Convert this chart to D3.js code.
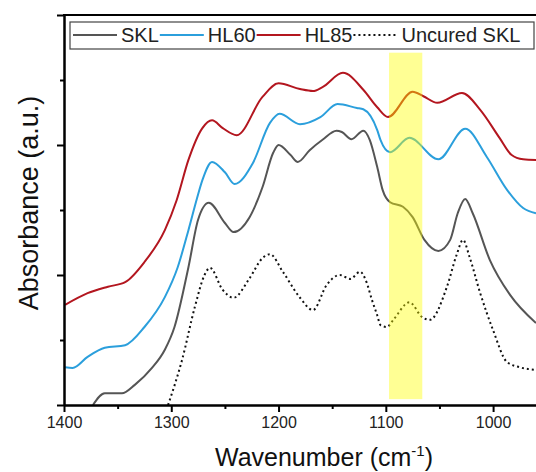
<!DOCTYPE html>
<html>
<head>
<meta charset="utf-8">
<script src="https://cdn.jsdelivr.net/npm/d3@7"></script>
<style>
  body { margin: 0; background: #fff; }
  svg { display: block; font-family: Arial, "Liberation Sans", sans-serif; }
</style>
</head>
<body>
<script>
// wavenumber (cm-1), absorbance (a.u., offset stacked)
const hl85Wn  = [1399,1378,1359,1343,1325,1306,1295,1284,1271,1262,1252,1239,1215,1200,1180,1168,1159,1140,1121,1108,1098,1075,1065,1052,1029,1012,994,983,972,960];
const hl85Abs = [1.54,1.72,1.82,1.89,2.20,2.69,3.15,3.77,4.26,4.38,4.26,4.15,4.74,4.95,4.86,4.83,4.89,5.11,4.85,4.58,4.43,4.82,4.75,4.65,4.80,4.54,4.11,3.85,3.78,3.77];

const hl60Wn  = [1399,1392,1378,1362,1343,1325,1306,1294,1284,1276,1271,1262,1250,1241,1224,1208,1199,1180,1161,1145,1127,1121,1108,1105,1096,1078,1051,1026,1006,987,972,960];
const hl60Abs = [0.58,0.57,0.74,0.88,0.92,1.20,1.66,2.12,2.69,3.18,3.46,3.74,3.58,3.40,3.72,4.34,4.48,4.32,4.43,4.63,4.57,4.55,4.23,4.08,3.89,4.11,3.78,4.25,3.82,3.31,3.03,2.95];

const sklWn  = [1373,1362,1346,1334,1318,1306,1297,1284,1275,1265,1250,1242,1227,1215,1205,1200,1189,1182,1171,1159,1146,1141,1132,1121,1115,1108,1103,1096,1084,1075,1064,1051,1040,1033,1026,1019,1003,984,960];
const sklAbs = [0.00,0.18,0.18,0.31,0.57,0.85,1.20,2.12,2.85,3.11,2.80,2.66,2.89,3.35,3.88,4.00,3.85,3.74,3.92,4.08,4.22,4.20,4.09,4.22,4.08,3.66,3.31,3.12,3.05,2.89,2.54,2.37,2.54,2.95,3.17,2.95,2.23,1.69,1.26];

const uncWn  = [1303,1290,1278,1269,1264,1252,1242,1227,1215,1208,1196,1180,1168,1155,1143,1133,1124,1118,1113,1108,1105,1099,1093,1078,1066,1059,1043,1034,1028,1022,1012,1000,987,975,960];
const uncAbs = [0.00,0.69,1.51,2.00,2.11,1.77,1.65,1.95,2.26,2.32,2.05,1.65,1.46,1.85,2.00,1.94,2.05,1.89,1.62,1.38,1.23,1.20,1.31,1.58,1.35,1.31,1.82,2.31,2.54,2.28,1.72,1.15,0.66,0.58,0.54];

const seriesNames  = ["SKL", "HL60", "HL85", "Uncured SKL"];
const xMajorTicks  = [1400, 1300, 1200, 1100, 1000];
const xMinorTicks  = [1350, 1250, 1150, 1050];
const yMajorTicks  = [0, 2, 4, 6];
const yMinorTicks  = [1, 3, 5];
const highlightWn  = [1097, 1066];
const highlightAbs = [0.09, 5.42];

const W = 536, H = 472;
const x = d3.scaleLinear().domain([1400, 960]).range([64, 536]);
const y = d3.scaleLinear().domain([0, 6]).range([405, 15]);

const svg = d3.select("body").append("svg").attr("width", W).attr("height", H);

const series = [
  {name: seriesNames[0], wn: sklWn,  abs: sklAbs,  color: "#555555", dash: null},
  {name: seriesNames[1], wn: hl60Wn, abs: hl60Abs, color: "#2b9fdc", dash: null},
  {name: seriesNames[2], wn: hl85Wn, abs: hl85Abs, color: "#b3161f", dash: null},
  {name: seriesNames[3], wn: uncWn,  abs: uncAbs,  color: "#111111", dash: "2,3"}
];

svg.append("clipPath").attr("id", "plot-clip")
  .append("rect").attr("x", 64).attr("y", 15).attr("width", W - 64).attr("height", 390);

const line = d3.line()
  .x(d => x(d[0]))
  .y(d => y(d[1]))
  .curve(d3.curveMonotoneX);

const plot = svg.append("g").attr("clip-path", "url(#plot-clip)");

plot.selectAll(".spec")
  .data(series)
  .enter().append("path")
  .attr("class", "spec")
  .attr("fill", "none")
  .attr("stroke", d => d.color)
  .attr("stroke-width", 2)
  .attr("stroke-dasharray", d => d.dash)
  .attr("d", d => line(d.wn.map((w, i) => [w, d.abs[i]])));

// highlighted band, drawn on top so the lines show through tinted
plot.append("rect")
  .attr("x", x(highlightWn[0]))
  .attr("width", x(highlightWn[1]) - x(highlightWn[0]))
  .attr("y", y(highlightAbs[1]))
  .attr("height", y(highlightAbs[0]) - y(highlightAbs[1]))
  .attr("fill", "#ffff00")
  .attr("opacity", 0.42);

// axes
function styleAxis(g) {
  g.select(".domain").attr("stroke", "#000").attr("stroke-width", 2);
  g.selectAll(".tick line").attr("stroke", "#000").attr("stroke-width", 2);
}

svg.append("g")
  .attr("transform", "translate(0,405)")
  .call(d3.axisBottom(x).tickValues(xMinorTicks).tickSize(4).tickFormat("").tickSizeOuter(0))
  .call(styleAxis);

const xAxis = svg.append("g")
  .attr("transform", "translate(0,405)")
  .call(d3.axisBottom(x).tickValues(xMajorTicks).tickSize(7).tickPadding(5)
    .tickFormat(d3.format("d")).tickSizeOuter(0))
  .call(styleAxis);
xAxis.selectAll(".tick text")
  .attr("font-size", 16)
  .attr("fill", "#222")
  .attr("font-family", "Arial, 'Liberation Sans', sans-serif");

svg.append("g")
  .attr("transform", "translate(64,0)")
  .call(d3.axisLeft(y).tickValues(yMinorTicks).tickSize(4).tickFormat("").tickSizeOuter(0))
  .call(styleAxis);

svg.append("g")
  .attr("transform", "translate(64,0)")
  .call(d3.axisLeft(y).tickValues(yMajorTicks).tickSize(7).tickFormat("").tickSizeOuter(0))
  .call(styleAxis);

// top frame
svg.append("line")
  .attr("x1", 63).attr("x2", W)
  .attr("y1", y(6)).attr("y2", y(6))
  .attr("stroke", "#000").attr("stroke-width", 2);

// axis titles
const xt = svg.append("text")
  .attr("x", 324).attr("y", 466)
  .attr("text-anchor", "middle")
  .attr("font-size", 25)
  .attr("fill", "#111")
  .text("Wavenumber (cm");
xt.append("tspan").attr("font-size", 15).attr("dy", -10).text("-1");
xt.append("tspan").attr("dy", 10).text(")");

svg.append("text")
  .attr("transform", "translate(38,203) rotate(-90)")
  .attr("text-anchor", "middle")
  .attr("font-size", 27)
  .attr("fill", "#111")
  .text("Absorbance (a.u.)");

// legend
const legend = svg.append("g");
legend.append("rect")
  .attr("x", 70).attr("y", 22).attr("width", 464).attr("height", 27)
  .attr("fill", "#fff").attr("stroke", "#444").attr("stroke-width", 1.2);

let lx = 73;
series.forEach(s => {
  legend.append("line")
    .attr("x1", lx).attr("x2", lx + 44)
    .attr("y1", 35).attr("y2", 35)
    .attr("stroke", s.color).attr("stroke-width", 2)
    .attr("stroke-dasharray", s.dash);
  const t = legend.append("text")
    .attr("x", lx + 48).attr("y", 42)
    .attr("font-size", 20)
    .attr("fill", "#222")
    .text(s.name);
  lx = lx + 48 + t.node().getComputedTextLength() + 1;
});
</script>
</body>
</html>
